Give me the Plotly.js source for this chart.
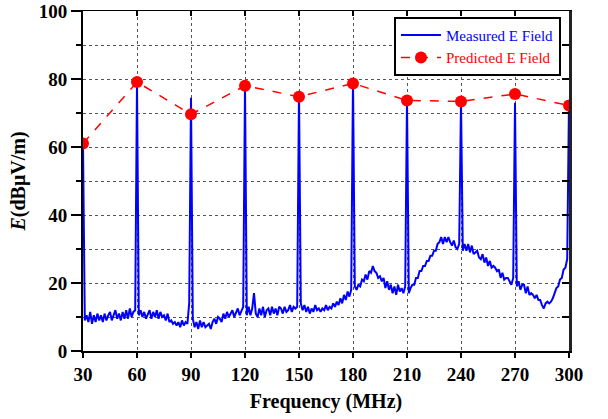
<!DOCTYPE html>
<html>
<head>
<meta charset="utf-8">
<script src="https://cdn.plot.ly/plotly-3.0.1.min.js"></script>
<style>html,body{margin:0;padding:0;background:#fff;}#chart{width:608px;height:419px;}</style>
</head>
<body>
<div id="chart"></div>
<script>
// Measured spectrum: baseline values at 1 MHz steps from 30 to 300 MHz
const measStartMHz = 30;
const measStepMHz = 1;
const measBase = [
  7.5, 9, 10.5, 8.5, 11.5, 8, 10.5, 8.5, 11, 9,
  10.5, 8.5, 11, 9, 10.5, 11.5, 9, 10.5, 12, 9.5,
  11, 9, 11.5, 9.5, 12, 9.5, 12.5, 10, 11.5, 12,
  12.5, 10.5, 12, 10, 11.5, 9.5, 11, 12, 9.5, 11.5,
  10, 12, 9.5, 11.5, 10, 10.5, 9, 11, 8.5, 9,
  8, 8.5, 7.5, 8.5, 7, 9, 7.5, 8.5, 8, 14,
  8.5, 9.5, 7, 8.5, 6.5, 9, 7, 8.5, 7, 7.5,
  8, 6.5, 8.5, 9.5, 8, 10, 9.5, 8.5, 11, 9.5,
  11.5, 10, 11, 12, 10, 11.5, 12.5, 10.5, 12, 13,
  13.5, 10.5, 13, 10.5, 12.5, 17, 11, 10, 12.5, 10.5,
  13, 10, 12, 12.5, 10.5, 13, 11, 12.5, 10.5, 13,
  12.5, 11, 13, 11.5, 12, 13.5, 11.5, 13, 12.5, 13,
  13.5, 14, 12, 13.5, 11.5, 13, 11, 12.5, 11.5, 13.5,
  12, 12.5, 11.5, 12.5, 12, 13.5, 12, 13, 12.5, 14,
  13, 14.5, 13.5, 15.5, 14, 16.5, 15, 17.5, 16, 18,
  17, 19, 18, 19.5, 19, 21, 20.5, 22.5, 21, 23.5,
  23, 25, 23.5, 23, 21.5, 22, 20.5, 21.5, 18.5, 20.5,
  18, 19.5, 17, 19, 16.5, 19.5, 17.5, 18.5, 17, 19,
  18.5, 17, 18.5, 19.5, 19.5, 21.5, 21.5, 23.5, 23.5, 25,
  25, 26.5, 26.5, 28, 28, 29.5, 29.5, 31.5, 32, 33.5,
  31.5, 33.5, 32, 33.5, 32, 31, 32.5, 30.5, 30, 31.5,
  32, 29.5, 31.5, 29.5, 31.5, 29, 31, 28.5, 29, 29.5,
  27.5, 27, 28.5, 26, 27.5, 25, 26.5, 24.5, 25, 24.5,
  23.5, 24, 21.5, 23, 21, 21.5, 21.5, 20.5, 19.5, 21.5,
  20, 19, 20.5, 18, 19.5, 19.5, 17, 19, 16.5, 17,
  16.5, 15.5, 16.5, 15, 15, 13.5, 12.5, 14, 14.5, 14,
  14.5, 15.5, 17, 18.5, 19, 21, 21.5, 24, 24.5, 27,
  30
];
// Narrow emission peaks in the measured spectrum
const spikeFreq = [30, 60, 90, 120, 150, 180, 210, 240, 270, 300];
const spikePeak = [61, 79, 74.5, 78, 76, 80, 74, 73.5, 73, 73.5];

// Predicted E field
const predFreq = [30, 60, 90, 120, 150, 180, 210, 240, 270, 300];
const predVal  = [61, 79.1, 69.6, 78, 74.8, 78.7, 73.7, 73.4, 75.6, 72.2];

const xTicks = [30, 60, 90, 120, 150, 180, 210, 240, 270, 300];
const yTicks = [0, 20, 40, 60, 80, 100];

const measX = [], measY = [];
for (let i = 0; i < measBase.length; i++) {
  const f = measStartMHz + i * measStepMHz;
  const k = spikeFreq.indexOf(f);
  measX.push(f);
  measY.push(k >= 0 ? spikePeak[k] : measBase[i]);
}

const serif = '"Liberation Serif", "Times New Roman", serif';

const traces = [
  {
    x: measX, y: measY, type: 'scatter', mode: 'lines',
    name: '<span style="color:#0000ff">Measured E Field</span>',
    line: {color: '#0000ff', width: 2},
    xaxis: 'x', yaxis: 'y'
  },
  {
    x: predFreq, y: predVal, type: 'scatter', mode: 'lines+markers',
    name: '<span style="color:#ff0000">Predicted E Field</span>',
    line: {color: '#ff0000', width: 1.5, dash: 'dash'},
    marker: {color: '#ff0000', size: 12},
    xaxis: 'x', yaxis: 'y'
  }
];

const gridCol = '#555555';
const layout = {
  width: 608, height: 419,
  margin: {l: 83, r: 39, t: 11, b: 68},
  paper_bgcolor: '#ffffff', plot_bgcolor: '#ffffff',
  showlegend: true,
  legend: {
    x: 0.9835, y: 0.983, xanchor: 'right', yanchor: 'top',
    bgcolor: '#ffffff', bordercolor: '#000000', borderwidth: 2,
    font: {family: serif, size: 15},
    tracegroupgap: 0, itemwidth: 40
  },
  xaxis: {
    range: [30, 300], tickvals: xTicks, ticktext: xTicks.map(String),
    ticks: 'outside', ticklen: 5, tickwidth: 1.5, tickcolor: '#000',
    showline: true, linecolor: '#000', linewidth: 2,
    showgrid: true, gridcolor: gridCol, griddash: 'dot', gridwidth: 1,
    zeroline: false, ticklabeloverflow: 'allow',
    tickfont: {family: serif, size: 19, color: '#000', weight: 'bold'},
    title: {text: '<b>Frequency (MHz)</b>', font: {family: serif, size: 20, color: '#000'}, standoff: 10}
  },
  xaxis2: {
    range: [30, 300], overlaying: 'x', side: 'top', tickvals: xTicks,
    showticklabels: false, ticks: 'inside', ticklen: 5, tickwidth: 1.5, tickcolor: '#000',
    showline: true, linecolor: '#000', linewidth: 1.5, showgrid: false, zeroline: false
  },
  yaxis: {
    range: [0, 100], tickvals: yTicks, ticktext: yTicks.map(String),
    ticks: 'outside', ticklen: 10, tickwidth: 1.5, tickcolor: '#000',
    minor: {dtick: 10, ticks: 'outside', ticklen: 5, tickwidth: 1.5, tickcolor: '#000',
            showgrid: true, gridcolor: gridCol, griddash: 'dot', gridwidth: 1},
    showline: true, linecolor: '#000', linewidth: 2,
    showgrid: true, gridcolor: gridCol, griddash: 'dot', gridwidth: 1,
    zeroline: false, ticklabeloverflow: 'allow',
    tickfont: {family: serif, size: 19, color: '#000', weight: 'bold'},
    title: {text: '<b><i>E</i>(dBμV/m)</b>', font: {family: serif, size: 20, color: '#000'}, standoff: 8}
  },
  yaxis2: {
    range: [0, 100], overlaying: 'y', side: 'right', dtick: 10, tick0: 0,
    showticklabels: false, ticks: 'inside', ticklen: 7, tickwidth: 1.5, tickcolor: '#000',
    showline: true, linecolor: '#222', linewidth: 2.5, showgrid: false, zeroline: false
  }
};

// invisible helper trace so the mirrored top/right axes are drawn
traces.push({x: [30], y: [0], xaxis: 'x2', yaxis: 'y2', type: 'scatter', mode: 'markers',
  marker: {opacity: 0}, showlegend: false, hoverinfo: 'skip'});

Plotly.newPlot('chart', traces, layout, {staticPlot: true, displayModeBar: false});
</script>
</body>
</html>
